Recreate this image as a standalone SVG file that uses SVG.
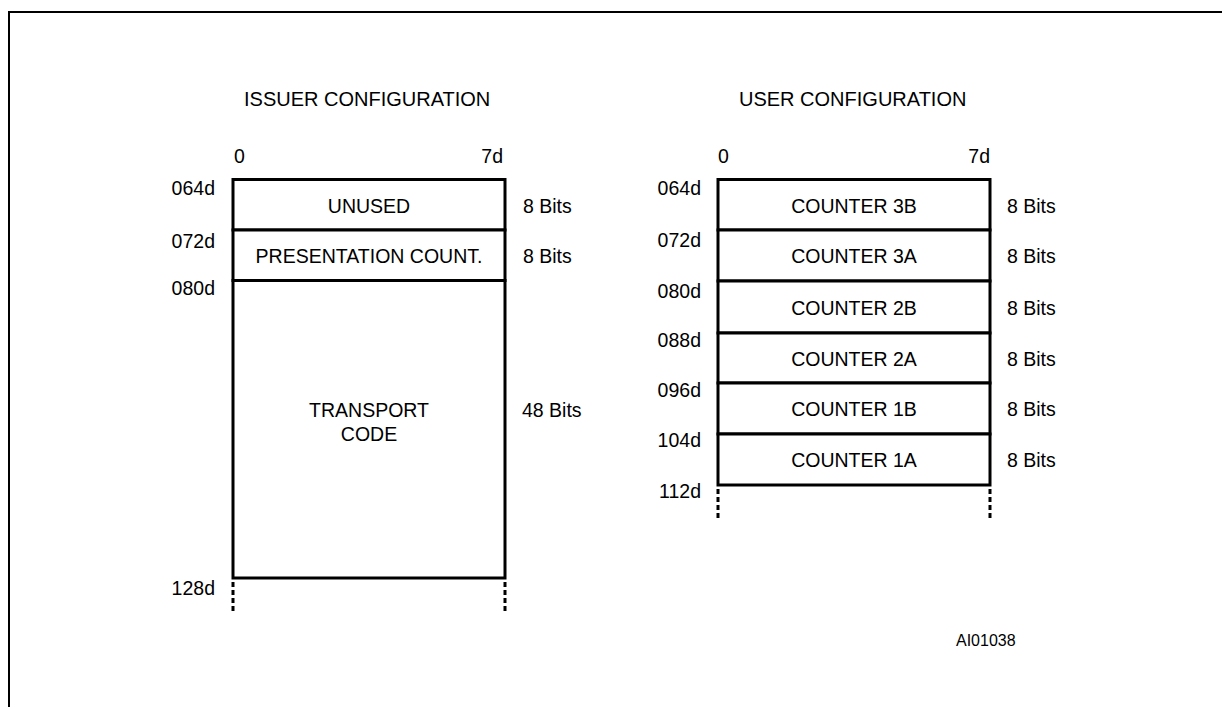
<svg xmlns="http://www.w3.org/2000/svg" width="1222" height="707" viewBox="0 0 1222 707">
<style>
text{font-family:"Liberation Sans",Arial,sans-serif;fill:#000;font-size:19.5px}
.c{text-anchor:middle}
.r{text-anchor:end}
.h{font-size:20px}
.s{font-size:16px}
.box{fill:#fff;stroke:#000;stroke-width:3}
.ln{stroke:#000;stroke-width:3;fill:none}
.dash{stroke:#000;stroke-width:3;stroke-dasharray:5 3;fill:none}
.frame{stroke:#000;stroke-width:2;fill:none}
</style>
<rect width="1222" height="707" fill="#fff"/>
<path class="frame" d="M9 720 V12 H1230"/>

<g id="issuer">
  <text x="244" y="106" class="h">ISSUER CONFIGURATION</text>
  <text x="234" y="163">0</text>
  <text x="503" y="163" class="r">7d</text>
  <g id="issuer-unused">
    <rect class="box" x="233" y="179.5" width="272" height="50.5"/>
    <text x="369" y="213" class="c">UNUSED</text>
    <text x="215" y="195" class="r">064d</text>
    <text x="523" y="213">8 Bits</text>
  </g>
  <g id="issuer-presentation">
    <rect class="box" x="233" y="230" width="272" height="50.5"/>
    <text x="369" y="263" class="c">PRESENTATION COUNT.</text>
    <text x="215" y="248" class="r">072d</text>
    <text x="523" y="263">8 Bits</text>
  </g>
  <g id="issuer-transport">
    <rect class="box" x="233" y="280.5" width="272" height="297.5"/>
    <text x="369" y="417" class="c">TRANSPORT</text>
    <text x="369" y="441" class="c">CODE</text>
    <text x="215" y="295" class="r">080d</text>
    <text x="522" y="417">48 Bits</text>
  </g>
  <text x="215" y="595" class="r">128d</text>
  <path class="dash" d="M233 582 V612 M505 582 V612"/>
</g>

<g id="user">
  <text x="739" y="106" class="h">USER CONFIGURATION</text>
  <text x="718" y="163">0</text>
  <text x="990" y="163" class="r">7d</text>
  <g id="user-c3b">
    <rect class="box" x="718" y="179.5" width="272" height="50.5"/>
    <text x="854" y="213" class="c">COUNTER 3B</text>
    <text x="701" y="195" class="r">064d</text>
    <text x="1007" y="213">8 Bits</text>
  </g>
  <g id="user-c3a">
    <rect class="box" x="718" y="230" width="272" height="51"/>
    <text x="854" y="263" class="c">COUNTER 3A</text>
    <text x="701" y="247" class="r">072d</text>
    <text x="1007" y="263">8 Bits</text>
  </g>
  <g id="user-c2b">
    <rect class="box" x="718" y="281" width="272" height="52"/>
    <text x="854" y="315" class="c">COUNTER 2B</text>
    <text x="701" y="298" class="r">080d</text>
    <text x="1007" y="315">8 Bits</text>
  </g>
  <g id="user-c2a">
    <rect class="box" x="718" y="333" width="272" height="50"/>
    <text x="854" y="366" class="c">COUNTER 2A</text>
    <text x="701" y="347" class="r">088d</text>
    <text x="1007" y="366">8 Bits</text>
  </g>
  <g id="user-c1b">
    <rect class="box" x="718" y="383" width="272" height="51"/>
    <text x="854" y="416" class="c">COUNTER 1B</text>
    <text x="701" y="397" class="r">096d</text>
    <text x="1007" y="416">8 Bits</text>
  </g>
  <g id="user-c1a">
    <rect class="box" x="718" y="434" width="272" height="51"/>
    <text x="854" y="467" class="c">COUNTER 1A</text>
    <text x="701" y="447" class="r">104d</text>
    <text x="1007" y="467">8 Bits</text>
  </g>
  <text x="701" y="498" class="r">112d</text>
  <path class="dash" d="M718 489 V518 M990 489 V518"/>
</g>

<g id="connectors"></g>

<text x="956" y="646" class="s">AI01038</text>
</svg>
